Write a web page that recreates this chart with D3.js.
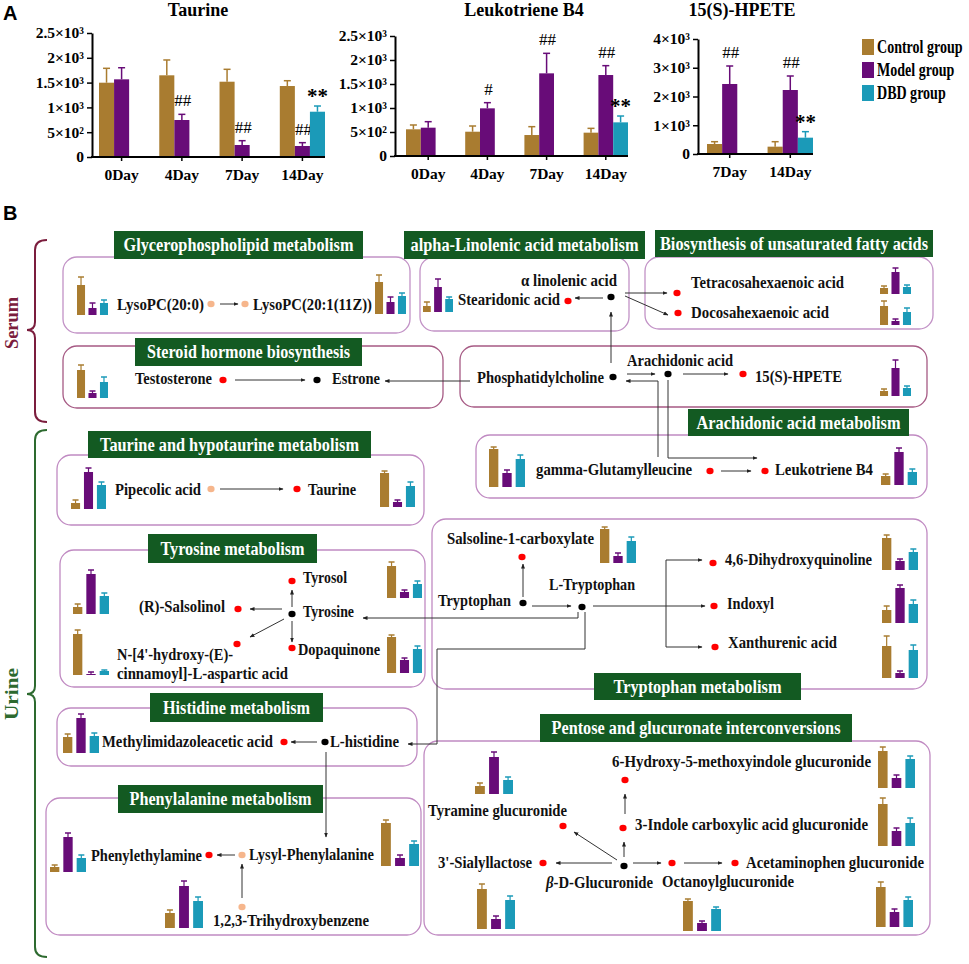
<!DOCTYPE html>
<html>
<head>
<meta charset="utf-8">
<script src="https://cdn.jsdelivr.net/npm/d3@7"></script>
<style>
  body { margin: 0; background: #fff; }
  svg text { font-family: "Liberation Serif", "Times New Roman", Times, serif !important; }
  svg text.sans { font-family: "Liberation Sans", Arial, sans-serif !important; }
</style>
</head>
<body>
<script>
// ---- panel A data ----
const days4 = ["0Day", "4Day", "7Day", "14Day"];
const days2 = ["7Day", "14Day"];
const groupNames = ["Control group", "Model group", "DBD group"];
const groupColors = ["#A97C30", "#680C78", "#1B9AB8"];

const taurineControl = [1498, 1647, 1518, 1431];
const taurineControlSD = [290, 309, 250, 107];
const taurineModel = [1566, 746, 242, 222];
const taurineModelSD = [234, 114, 87, 67];
const taurineDBD = [null, null, null, 913];
const taurineDBDSD = [null, null, null, 115];
const taurineModelSig = ["", "##", "##", "##"];
const taurineDBDSig = ["", "", "", "**"];

const ltb4Control = [556, 506, 437, 486];
const ltb4ControlSD = [90, 119, 174, 90];
const ltb4Model = [590, 993, 1722, 1687];
const ltb4ModelSD = [125, 118, 417, 195];
const ltb4DBD = [null, null, null, 701];
const ltb4DBDSD = [null, null, null, 132];
const ltb4ModelSig = ["", "#", "##", "##"];
const ltb4DBDSig = ["", "", "", "**"];

const hpeteControl = [348, 255];
const hpeteControlSD = [80, 173];
const hpeteModel = [2435, 2226];
const hpeteModelSD = [626, 487];
const hpeteDBD = [null, 568];
const hpeteDBDSD = [null, 209];
const hpeteModelSig = ["##", "##"];
const hpeteDBDSig = ["", "**"];

const ticks2500 = [0, 500, 1000, 1500, 2000, 2500];
const tickLabels2500 = ["0", "5×10²", "1×10³", "1.5×10³", "2×10³", "2.5×10³"];
const ticks4000 = [0, 1000, 2000, 3000, 4000];
const tickLabels4000 = ["0", "1×10³", "2×10³", "3×10³", "4×10³"];

// ---- panel B mini bar data (relative level, a.u.) ----
const miniNames = ["LysoPC(20:0)", "LysoPC(20:1(11Z))", "Stearidonic acid", "Tetracosahexaenoic acid",
  "Docosahexaenoic acid", "Testosterone", "15(S)-HPETE", "gamma-Glutamylleucine", "Leukotriene B4",
  "Pipecolic acid", "Taurine", "(R)-Salsolinol", "N-[4'-hydroxy-(E)-cinnamoyl]-L-aspartic acid", "Tyrosol",
  "Dopaquinone", "Salsoline-1-carboxylate", "4,6-Dihydroxyquinoline", "Indoxyl", "Xanthurenic acid",
  "Methylimidazoleacetic acid", "Phenylethylamine", "Lysyl-Phenylalanine", "1,2,3-Trihydroxybenzene",
  "Tyramine glucuronide", "6-Hydroxy-5-methoxyindole glucuronide", "3-Indole carboxylic acid glucuronide",
  "3'-Sialyllactose", "Octanoylglucuronide", "Acetaminophen glucuronide"];
const miniControl    = [30, 32, 6, 6, 19, 28, 5, 38, 9, 6, 34, 7, 41, 32, 36, 34, 32, 13, 32, 16, 5, 43, 15, 8, 37, 42, 40, 30, 40];
const miniControlErr = [8, 7, 4, 2, 5, 5, 2, 2, 2, 3, 2, 3, 4, 4, 2, 2, 3, 4, 10, 3, 2, 3, 3, 3, 4, 6, 5, 2, 5];
const miniModel      = [7, 12, 25, 22, 4, 5, 28, 14, 33, 37, 5, 40, 1, 6, 13, 7, 9, 35, 5, 35, 35, 8, 42, 37, 10, 15, 10, 8, 15];
const miniModelErr   = [5, 5, 8, 4, 2, 2, 8, 3, 4, 4, 2, 4, 2, 2, 2, 3, 2, 3, 2, 4, 4, 3, 5, 5, 3, 3, 3, 2, 3];
const miniDBD        = [12, 18, 13, 7, 13, 16, 8, 28, 13, 24, 21, 18, 4, 14, 24, 22, 18, 19, 28, 17, 14, 22, 27, 14, 29, 23, 29, 22, 27];
const miniDBDErr     = [3, 3, 2, 2, 4, 5, 2, 4, 3, 3, 4, 3, 1, 3, 3, 4, 3, 4, 5, 3, 3, 3, 4, 3, 3, 5, 4, 2, 3];

// ---- layout ----
const W = 969, H = 964;
const SERIF = "'Liberation Serif', 'Times New Roman', Times, serif";
const svg = d3.select("body").append("svg").attr("width", W).attr("height", H)
  .style("font-family", SERIF);
svg.append("rect").attr("width", W).attr("height", H).attr("fill", "#fff");
svg.append("defs").append("marker").attr("id", "ah")
  .attr("viewBox", "0 0 10 10").attr("refX", 9).attr("refY", 5)
  .attr("markerWidth", 5).attr("markerHeight", 5).attr("orient", "auto")
  .append("path").attr("d", "M0,1L10,5L0,9z").attr("fill", "#222");

svg.append("text").attr("class", "sans").attr("x", 3).attr("y", 20).text("A")
  .attr("font-weight", "bold").attr("font-size", 20);
svg.append("text").attr("class", "sans").attr("x", 3).attr("y", 220).text("B")
  .attr("font-weight", "bold").attr("font-size", 20);

// ---- panel A ----
const charts = [
  { title: "Taurine", titleX: 198, days: days4, vals: [taurineControl, taurineModel, taurineDBD],
    sds: [taurineControlSD, taurineModelSD, taurineDBDSD], sig: [null, taurineModelSig, taurineDBDSig],
    range: [99, 325], axisX: 92, y0: 157, yTop: 33, max: 2500, ticks: ticks2500, labels: tickLabels2500 },
  { title: "Leukotriene B4", titleX: 524, days: days4, vals: [ltb4Control, ltb4Model, ltb4DBD],
    sds: [ltb4ControlSD, ltb4ModelSD, ltb4DBDSD], sig: [null, ltb4ModelSig, ltb4DBDSig],
    range: [406, 628], axisX: 395, y0: 156, yTop: 36, max: 2500, ticks: ticks2500, labels: tickLabels2500 },
  { title: "15(S)-HPETE", titleX: 742, days: days2, vals: [hpeteControl, hpeteModel, hpeteDBD],
    sds: [hpeteControlSD, hpeteModelSD, hpeteDBDSD], sig: [null, hpeteModelSig, hpeteDBDSig],
    range: [707, 813], axisX: 698, y0: 154, yTop: 39, max: 4000, ticks: ticks4000, labels: tickLabels4000 }
];

charts.forEach(function(c) {
  const g = svg.append("g");
  const x = d3.scaleBand().domain(c.days).range(c.range).paddingInner(0.25).paddingOuter(0);
  const xs = d3.scaleBand().domain(groupNames).range([0, x.bandwidth()]);
  const y = d3.scaleLinear().domain([0, c.max]).range([c.y0, c.yTop]);

  g.append("text").attr("x", c.titleX).attr("y", 16).attr("text-anchor", "middle")
    .attr("font-weight", "bold").attr("font-size", 18).text(c.title);

  groupNames.forEach(function(gn, k) {
    c.days.forEach(function(d, i) {
      const v = c.vals[k][i];
      if (v == null) return;
      const bx = x(d) + xs(gn), bw = xs.bandwidth(), cx = bx + bw / 2;
      const top = y(v + c.sds[k][i]);
      g.append("line").attr("x1", cx).attr("x2", cx).attr("y1", y(v)).attr("y2", top)
        .attr("stroke", groupColors[k]).attr("stroke-width", 1.5);
      g.append("line").attr("x1", cx - 3.5).attr("x2", cx + 3.5).attr("y1", top).attr("y2", top)
        .attr("stroke", groupColors[k]).attr("stroke-width", 1.5);
      g.append("rect").attr("x", bx).attr("width", bw).attr("y", y(v)).attr("height", y(0) - y(v))
        .attr("fill", groupColors[k]);
      const s = c.sig[k] ? c.sig[k][i] : "";
      if (s === "**") {
        g.append("text").attr("x", cx).attr("y", top - 3).attr("text-anchor", "middle")
          .attr("font-weight", "bold").attr("font-size", 21).text(s);
      } else if (s) {
        g.append("text").attr("x", cx + 1).attr("y", top - 8).attr("text-anchor", "middle")
          .attr("font-size", 17).text(s);
      }
    });
  });

  const ya = g.append("g").attr("transform", `translate(${c.axisX},0)`)
    .call(d3.axisLeft(y).tickValues(c.ticks).tickFormat((d, i) => c.labels[i]).tickSize(5).tickSizeOuter(0));
  ya.attr("font-family", null);
  ya.select(".domain").attr("stroke-width", 2);
  ya.selectAll(".tick line").attr("stroke-width", 1.5);
  ya.selectAll(".tick text").attr("font-weight", "bold").attr("font-size", 15.5).attr("fill", "#000");

  const xa = g.append("g").attr("transform", `translate(0,${c.y0})`)
    .call(d3.axisBottom(x).tickSize(4).tickPadding(8).tickSizeOuter(0));
  xa.attr("font-family", null);
  xa.select(".domain").remove();
  xa.selectAll(".tick line").attr("stroke-width", 1.5);
  xa.selectAll(".tick text").attr("font-weight", "bold").attr("font-size", 15.5).attr("fill", "#000");
  g.append("line").attr("x1", c.axisX - 1).attr("x2", c.range[1]).attr("y1", c.y0).attr("y2", c.y0)
    .attr("stroke", "#000").attr("stroke-width", 2);
});

// legend (text squeezed horizontally like the original)
const legend = svg.append("g");
const legY = d3.scaleBand().domain(groupNames).range([38, 107]);
groupNames.forEach(function(gn, k) {
  legend.append("rect").attr("x", 862).attr("y", legY(gn) + 1).attr("width", 12).attr("height", 16)
    .attr("fill", groupColors[k]);
  legend.append("text").attr("transform", `translate(877,${legY(gn) + 15}) scale(0.78,1)`)
    .attr("font-weight", "bold").attr("font-size", 18).text(gn);
});

// ---- panel B ----
const gB = svg.append("g");

// braces and sample labels
function brace(top, mid, bot, color) {
  const p = `M47,${top} Q35,${top} 35,${top + 10} L35,${mid - 8} Q35,${mid} 27,${mid} Q35,${mid} 35,${mid + 8} L35,${bot - 10} Q35,${bot} 47,${bot}`;
  gB.append("path").attr("d", p).attr("fill", "none").attr("stroke", color).attr("stroke-width", 2);
}
brace(240, 330, 422, "#7b1d3d");
brace(430, 694, 957, "#2d6a2f");
gB.append("text").attr("transform", "translate(18,323) rotate(-90)").attr("text-anchor", "middle")
  .attr("font-weight", "bold").attr("font-size", 19).attr("fill", "#7b1d3d")
  .attr("textLength", 52).attr("lengthAdjust", "spacingAndGlyphs").text("Serum");
gB.append("text").attr("transform", "translate(18,694) rotate(-90)").attr("text-anchor", "middle")
  .attr("font-weight", "bold").attr("font-size", 19).attr("fill", "#2d6a2f")
  .attr("textLength", 52).attr("lengthAdjust", "spacingAndGlyphs").text("Urine");

// pathway boxes
const boxes = [
  [63, 257, 347, 76, "#c292c6"], [420, 257, 209, 74, "#c292c6"], [645, 257, 288, 72, "#c292c6"],
  [63, 346, 380, 62, "#a65a84"], [460, 346, 467, 61, "#a65a84"], [476, 435, 451, 63, "#c08ac2"],
  [57, 455, 367, 70, "#c08ac2"], [60, 550, 365, 137, "#c08ac2"], [432, 519, 495, 170, "#c08ac2"],
  [57, 708, 360, 58, "#c08ac2"], [46, 798, 375, 137, "#c08ac2"], [424, 741, 506, 194, "#c08ac2"]
];
boxes.forEach(function(b) {
  gB.append("rect").attr("x", b[0]).attr("y", b[1]).attr("width", b[2]).attr("height", b[3])
    .attr("rx", 14).attr("fill", "none").attr("stroke", b[4]).attr("stroke-width", 1.3);
});

// connecting arrows
const arrows = [
  [[220, 304], [238, 304]], [[603, 298], [575, 298]], [[611, 363], [611, 312]],
  [[625, 293], [667, 293]], [[625, 296], [668, 315]], [[235, 380], [305, 380]],
  [[470, 381], [385, 381]], [[627, 374], [655, 374]], [[658, 457], [658, 381], [626, 381]],
  [[668, 380], [668, 458], [757, 458]], [[683, 374], [728, 374]], [[721, 471], [751, 471]],
  [[220, 489], [283, 489]], [[292, 607], [292, 590]], [[282, 609], [250, 609]],
  [[284, 619], [250, 637]], [[292, 621], [292, 642]], [[578, 612], [578, 618], [363, 618]],
  [[523, 597], [523, 564]], [[532, 606], [571, 606]], [[593, 606], [705, 606]],
  [[666, 606], [666, 560], [702, 560]], [[666, 606], [666, 647], [702, 647]],
  [[585, 612], [585, 649], [437, 649], [437, 744], [408, 744]],
  [[317, 742], [291, 742]], [[326, 752], [326, 837]], [[235, 855], [217, 855]],
  [[242, 898], [242, 864]], [[624, 857], [624, 842]], [[625, 814], [625, 794]],
  [[617, 860], [574, 832]], [[612, 863], [556, 863]], [[633, 863], [661, 863]], [[684, 863], [722, 863]]
];
const line = d3.line();
arrows.forEach(function(a) {
  gB.append("path").attr("d", line(a)).attr("fill", "none").attr("stroke", "#333")
    .attr("stroke-width", 1).attr("marker-end", "url(#ah)");
});

// headers
const headers = [
  [114, 231, 249, 28, "Glycerophospholipid metabolism", 230],
  [404, 231, 241, 28, "alpha-Linolenic acid metabolism", 228],
  [655, 230, 278, 27, "Biosynthesis of unsaturated fatty acids", 268],
  [135, 338, 227, 28, "Steroid hormone biosynthesis", 203],
  [688, 409, 221, 27, "Arachidonic acid metabolism", 204],
  [88, 431, 283, 27, "Taurine and hypotaurine metabolism", 259],
  [148, 534, 169, 29, "Tyrosine metabolism", 144],
  [594, 673, 207, 27, "Tryptophan metabolism", 168],
  [150, 693, 173, 29, "Histidine metabolism", 147],
  [118, 785, 205, 28, "Phenylalanine metabolism", 182],
  [540, 714, 312, 28, "Pentose and glucuronate interconversions", 289]
];
headers.forEach(function(h) {
  gB.append("rect").attr("x", h[0]).attr("y", h[1]).attr("width", h[2]).attr("height", h[3]).attr("fill", "#135a22");
  gB.append("text").attr("x", h[0] + h[2] / 2).attr("y", h[1] + h[3] / 2 + 6).attr("text-anchor", "middle")
    .attr("fill", "#fff").attr("font-weight", "bold").attr("font-size", 18)
    .attr("textLength", h[5]).attr("lengthAdjust", "spacingAndGlyphs").text(h[4]);
});

// metabolite nodes
const dotColor = { r: "#f00", k: "#000", p: "#f6b68c" };
const dots = [
  [211, 304, "p"], [245, 304, "p"], [568, 301, "r"], [611, 297, "k"], [677, 293, "r"], [678, 313, "r"],
  [223, 380, "r"], [317, 380, "k"], [613, 377, "k"], [668, 374, "k"], [743, 374, "r"],
  [710, 471, "r"], [765, 471, "r"], [211, 489, "p"], [297, 489, "r"],
  [292, 581, "r"], [292, 614, "k"], [238, 609, "r"], [237, 644, "r"], [292, 648, "r"],
  [522, 557, "r"], [523, 603, "k"], [582, 607, "k"], [713, 563, "r"], [714, 606, "r"], [715, 647, "r"],
  [284, 742, "r"], [325, 742, "k"], [209, 855, "r"], [242, 855, "p"], [242, 907, "p"],
  [563, 826, "r"], [625, 780, "r"], [623, 828, "r"], [624, 866, "k"], [543, 863, "r"], [672, 863, "r"], [735, 863, "r"]
];
dots.forEach(function(d) {
  gB.append("ellipse").attr("cx", d[0]).attr("cy", d[1]).attr("rx", 3.6).attr("ry", 3.2).attr("fill", dotColor[d[2]]);
});

// metabolite labels
const labels = [
  ["LysoPC(20:0)", 117, 310, 87], ["LysoPC(20:1(11Z))", 253, 310, 119], ["α linolenic acid", 521, 286, 96],
  ["Stearidonic acid", 458, 305, 102], ["Tetracosahexaenoic acid", 691, 288, 153], ["Docosahexaenoic acid", 691, 318, 138],
  ["Testosterone", 135, 384, 77], ["Estrone", 332, 384, 48], ["Phosphatidylcholine", 477, 383, 127],
  ["Arachidonic acid", 627, 366, 106], ["15(S)-HPETE", 755, 382, 87], ["gamma-Glutamylleucine", 536, 475, 156],
  ["Leukotriene B4", 775, 475, 98], ["Pipecolic acid", 115, 495, 86], ["Taurine", 308, 495, 48],
  ["Tyrosol", 303, 583, 44], ["Tyrosine", 303, 617, 51], ["(R)-Salsolinol", 139, 612, 86],
  ["N-[4'-hydroxy-(E)-", 117, 660, 116], ["cinnamoyl]-L-aspartic acid", 117, 679, 171], ["Dopaquinone", 298, 655, 82],
  ["Salsoline-1-carboxylate", 447, 544, 147], ["Tryptophan", 438, 606, 73], ["L-Tryptophan", 549, 590, 86],
  ["4,6-Dihydroxyquinoline", 725, 565, 147], ["Indoxyl", 727, 609, 47], ["Xanthurenic acid", 728, 648, 109],
  ["Methylimidazoleacetic acid", 102, 747, 171], ["L-histidine", 330, 747, 69], ["Phenylethylamine", 91, 861, 111],
  ["Lysyl-Phenylalanine", 249, 860, 125], ["1,2,3-Trihydroxybenzene", 213, 926, 156],
  ["Tyramine glucuronide", 428, 816, 139], ["6-Hydroxy-5-methoxyindole glucuronide", 612, 767, 259],
  ["3-Indole carboxylic acid glucuronide", 635, 830, 233], ["3'-Sialyllactose", 438, 868, 94],
  ["Acetaminophen glucuronide", 746, 868, 178], ["Octanoylglucuronide", 662, 887, 132]
];
labels.forEach(function(l) {
  gB.append("text").attr("x", l[1]).attr("y", l[2]).attr("font-weight", "bold").attr("font-size", 17)
    .attr("fill", "#111").attr("textLength", l[3]).attr("lengthAdjust", "spacingAndGlyphs").text(l[0]);
});
const glu = gB.append("text").attr("x", 546).attr("y", 888).attr("font-weight", "bold").attr("font-size", 17)
  .attr("fill", "#111").attr("textLength", 107).attr("lengthAdjust", "spacingAndGlyphs");
glu.append("tspan").attr("font-style", "italic").text("β");
glu.append("tspan").text("-D-Glucuronide");

// mini bar charts
const miniLayout = [
  [77, 315, 31], [375, 314, 31], [423, 312, 30], [880, 294, 31], [880, 325, 31], [77, 398, 31], [880, 396, 31],
  [489, 487, 36], [881, 485, 36], [71, 509, 35], [380, 507, 35], [73, 614, 36], [73, 675, 36], [387, 598, 35],
  [387, 673, 35], [600, 563, 36], [882, 570, 36], [882, 623, 36], [882, 678, 36], [63, 753, 36], [50, 872, 36],
  [381, 866, 38], [165, 928, 38], [475, 794, 38], [878, 788, 37], [878, 846, 37], [477, 929, 38], [683, 931, 38],
  [876, 927, 37]
];
const miniH = d3.scaleLinear().domain([0, 50]).range([0, 50]);
miniNames.forEach(function(name, i) {
  const [x0, base, w] = miniLayout[i];
  const xb = d3.scaleBand().domain(groupNames).range([x0, x0 + w]).paddingInner(0.3);
  const vals = [miniControl[i], miniModel[i], miniDBD[i]];
  const errs = [miniControlErr[i], miniModelErr[i], miniDBDErr[i]];
  const g = gB.append("g").attr("class", "mini").attr("data-name", name);
  groupNames.forEach(function(gn, k) {
    const bx = xb(gn), bw = xb.bandwidth(), cx = bx + bw / 2;
    const top = base - miniH(vals[k] + errs[k]);
    g.append("line").attr("x1", cx).attr("x2", cx).attr("y1", base - miniH(vals[k])).attr("y2", top)
      .attr("stroke", groupColors[k]).attr("stroke-width", 1.2);
    g.append("line").attr("x1", cx - 3).attr("x2", cx + 3).attr("y1", top).attr("y2", top)
      .attr("stroke", groupColors[k]).attr("stroke-width", 1.5);
    g.append("rect").attr("x", bx).attr("width", bw).attr("y", base - miniH(vals[k]))
      .attr("height", miniH(vals[k])).attr("fill", groupColors[k]);
  });
});
</script>
</body>
</html>
